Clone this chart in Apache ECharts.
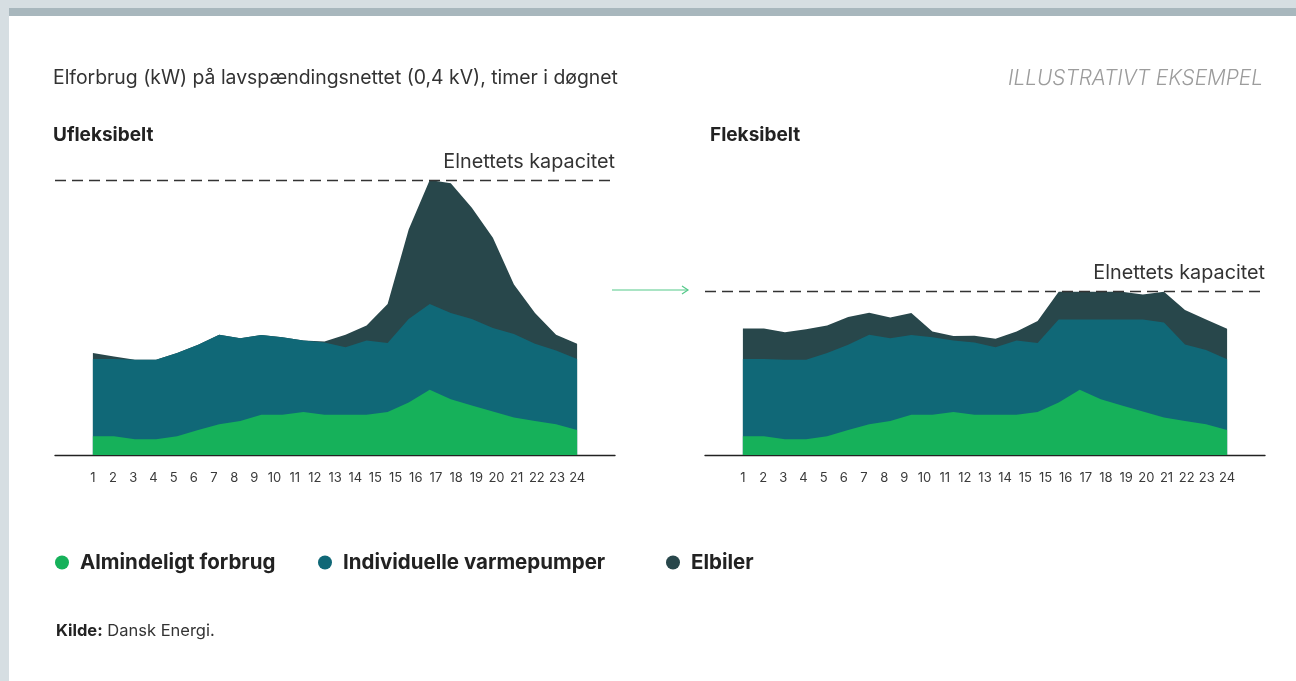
<!DOCTYPE html>
<html>
<head>
<meta charset="utf-8">
<script src="https://cdn.jsdelivr.net/npm/echarts@6/dist/echarts.min.js"></script>
<style>
html,body{margin:0;padding:0;background:#fff;}
#c{width:1296px;height:681px;}
</style>
</head>
<body>
<div id="c"></div>
<script>
// ---- data ----
const hours = [1,2,3,4,5,6,7,8,9,10,11,12,13,14,15,16,17,18,19,20,21,22,23,24];
const tickLabels = ['1','2','3','4','5','6','7','8','9','10','11','12','13','14','15','15','16','17','18','19','20','21','22','23','24'];
const almindeligt = [6.8,6.8,5.7,5.7,6.8,9.1,11.2,12.4,14.6,14.6,15.6,14.6,14.6,14.6,15.6,19.1,23.7,20.3,18.0,15.8,13.6,12.4,11.2,9.1];
const varmeUfleks = [28.1,28.1,28.9,28.9,30.3,31.0,32.5,30.1,29.0,28.2,26.0,26.3,24.6,27.0,25.1,30.4,31.2,31.3,31.5,30.4,30.4,28.1,26.8,25.8];
const elbilerUfleks = [2.2,0.9,0,0,0,0,0,0,0,0,0,0.4,4.5,5.5,14.2,32.5,45.1,47.2,40.4,32.8,18.0,11.1,5.7,5.6];
const varmeFleks = [28.1,28.1,28.9,28.9,30.3,31.0,32.5,30.1,29.0,28.2,26.0,26.3,24.6,27.0,25.1,30.2,25.6,29.0,31.3,33.5,34.6,27.8,27.0,25.7];
const elbilerFleks = [11.1,11.1,10.0,11.1,10.0,10.1,8.0,7.5,8.0,2.1,1.7,2.5,3.1,3.3,8.0,10.1,10.1,10.1,10.1,9.1,11.2,12.5,11.1,11.1];
const kapacitetUfleks = 100;
const kapacitetFleks = 59.6;
const seriesNames = ['Almindeligt forbrug','Individuelle varmepumper','Elbiler'];
const colors = ['#16b15a','#106877','#28474b'];

const FONT = 'Inter, Lato, sans-serif';
// stacked layers: each layer is drawn from 0 up to the running total
const cumulative = (...arrs) => hours.map((h,i)=>arrs.reduce((s,a)=>s+a[i],0));
const pairs = arr => hours.map((h,i)=>[h, +arr[i].toFixed(2)]);

function dataXAxis(g){
  return {gridIndex:g, type:'value', min:-0.8, max:25.8,
    axisLine:{show:true, onZero:false, lineStyle:{color:'#222', width:1.4}},
    axisTick:{show:false}, axisLabel:{show:false}, splitLine:{show:false}};
}
function labelXAxis(g){
  return {gridIndex:g, type:'category', data:tickLabels, boundaryGap:false,
    axisLine:{show:false}, axisTick:{show:false}, splitLine:{show:false},
    axisLabel:{show:true, interval:0, margin:17, fontSize:13, color:'#3a3a3a', fontFamily:FONT}};
}
function yAx(g){
  return {gridIndex:g, type:'value', min:0, max:100, show:false, splitLine:{show:false}};
}
function areaSeries(name, idx, arr, axisIdx, z, cap){
  const s = {name, type:'line', xAxisIndex:axisIdx, yAxisIndex:axisIdx,
    data:pairs(arr), symbol:'none', smooth:false,
    lineStyle:{width:0}, areaStyle:{color:colors[idx], opacity:1, origin:'start'}, itemStyle:{color:colors[idx]},
    silent:true, animation:false, z:z};
  if(cap !== undefined){
    s.markLine = {silent:true, symbol:'none', animation:false, z:10,
      lineStyle:{color:'#333', type:[11,6], width:1.3},
      label:{show:true, formatter:'Elnettets kapacitet', position:'insideEndTop', distance:[0,8],
        fontSize:19.8, color:'#333', fontFamily:FONT},
      data:[{yAxis:cap}]};
  }
  return s;
}

const chart = echarts.init(document.getElementById('c'), null, {renderer:'canvas'});
const option = {
  backgroundColor:'#fff',
  animation:false,
  title:[
    {text:'Elforbrug (kW) på lavspændingsnettet (0,4 kV), timer i døgnet', left:53, top:69, padding:0,
      textStyle:{fontSize:19.4, fontWeight:'normal', color:'#333', fontFamily:FONT}},
    {text:'ILLUSTRATIVT EKSEMPEL', right:33, top:68, padding:0,
      textStyle:{fontSize:20.8, fontWeight:300, fontStyle:'italic', color:'#9c9c9c', fontFamily:FONT}},
    {text:'Ufleksibelt', left:53, top:126, padding:0, textStyle:{fontSize:19, fontWeight:'bold', color:'#222', fontFamily:FONT}},
    {text:'Fleksibelt', left:710, top:126, padding:0, textStyle:{fontSize:19, fontWeight:'bold', color:'#222', fontFamily:FONT}},
    {text:'{b|Kilde:} Dansk Energi.', left:56, top:623, padding:0,
      textStyle:{fontSize:16.5, fontWeight:'normal', color:'#333', fontFamily:FONT,
        rich:{b:{fontWeight:'bold', fontSize:16.5, color:'#222', fontFamily:FONT}}}}
  ],
  legend:[0,1,2].map((i)=>({
    data:[seriesNames[i]], left:[55,318,666][i], top:552, padding:0, icon:'circle', itemWidth:14, itemHeight:14, itemGap:10,
    selectedMode:false,
    textStyle:{fontSize:20.5, fontWeight:'bold', color:'#222', fontFamily:FONT, padding:[0,0,0,6]}
  })),
  grid:[
    {left:55, top:180, width:560, height:275},
    {left:92.9, top:180, width:484.3, height:275},
    {left:705, top:180, width:560, height:275},
    {left:743, top:180, width:484, height:275}
  ],
  xAxis:[dataXAxis(0), labelXAxis(1), dataXAxis(2), labelXAxis(3)],
  yAxis:[yAx(0), yAx(1), yAx(2), yAx(3)],
  series:[
    areaSeries(seriesNames[2],2,cumulative(almindeligt,varmeUfleks,elbilerUfleks),0,2,kapacitetUfleks),
    areaSeries(seriesNames[1],1,cumulative(almindeligt,varmeUfleks),0,3),
    areaSeries(seriesNames[0],0,cumulative(almindeligt),0,4),
    areaSeries(seriesNames[2],2,cumulative(almindeligt,varmeFleks,elbilerFleks),2,2,kapacitetFleks),
    areaSeries(seriesNames[1],1,cumulative(almindeligt,varmeFleks),2,3),
    areaSeries(seriesNames[0],0,cumulative(almindeligt),2,4)
  ],
  graphic:[
    {type:'rect', shape:{x:0,y:0,width:1296,height:8}, style:{fill:'#d6dee2'}, silent:true},
    {type:'rect', shape:{x:9,y:8,width:1287,height:8}, style:{fill:'#a8b7bd'}, silent:true},
    {type:'rect', shape:{x:0,y:8,width:9,height:673}, style:{fill:'#d6dee2'}, silent:true},
    {type:'line', shape:{x1:612,y1:290,x2:688,y2:290}, style:{stroke:'#55c98a', lineWidth:1.2}, silent:true},
    {type:'polyline', shape:{points:[[682,286],[688,290],[682,294]]}, style:{stroke:'#55c98a', lineWidth:1.2, fill:null}, silent:true}
  ]
};
chart.setOption(option);
</script>
</body>
</html>
